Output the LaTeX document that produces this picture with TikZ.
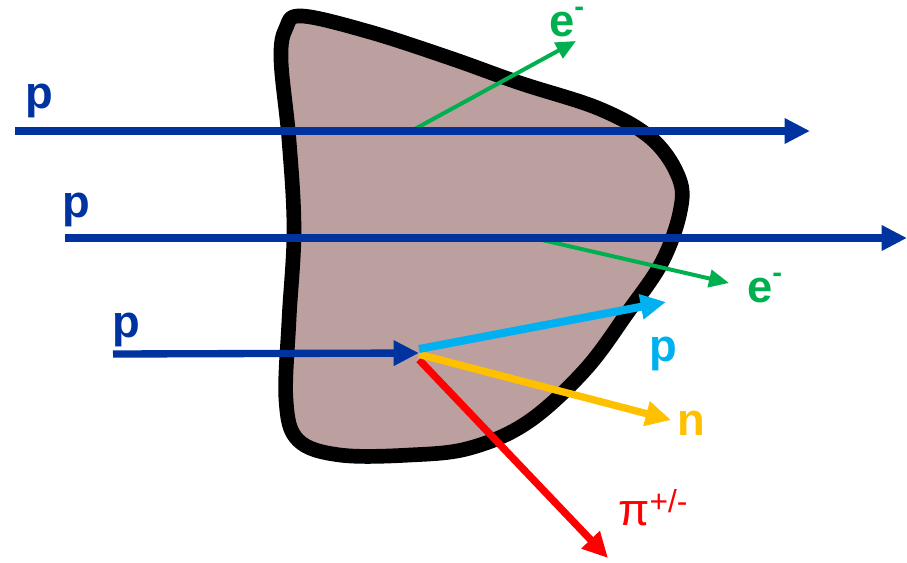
\documentclass[tikz,border=0pt]{standalone}
\usepackage{fontspec}
\setmainfont{Liberation Sans}
\usetikzlibrary{arrows.meta}

\definecolor{beamblue}{RGB}{0,51,160}
\definecolor{elgreen}{RGB}{0,176,80}
\definecolor{protcyan}{RGB}{0,176,240}
\definecolor{neutyellow}{RGB}{255,192,0}
\definecolor{pionred}{RGB}{255,0,0}
\definecolor{blobfill}{RGB}{188,160,160}

\begin{document}
\begin{tikzpicture}[
  x=0.75pt, y=-0.75pt,
  blob/.style={draw=black, line width=11pt, fill=blobfill, line join=round},
  beam/.style={draw=beamblue, line width=5.5pt, -{Triangle[length=19pt,width=18pt]}},
  electron/.style={draw=elgreen, line width=3pt, -{Triangle[length=15pt,width=13pt]}},
  product/.style={line width=5.5pt, -{Triangle[length=19pt,width=18pt]}},
  lbl/.style={font=\bfseries\fontsize{34}{40}\selectfont, anchor=base west, inner sep=0pt},
  pilbl/.style={font=\fontsize{34}{40}\selectfont, anchor=base west, inner sep=0pt}
]
\useasboundingbox (0,0) rectangle (907,562);

% target
\draw[blob] plot[smooth cycle, tension=0.6] coordinates {
  (302,16) (370,32) (450,58) (520,83) (600,109) (652,139) (679,178)
  (680,212) (662,262) (628,312) (585,370) (528,422) (470,448)
  (410,455) (340,455) (298,440) (286,400) (289,320) (294,230)
  (289,140) (281,60) (286,28)};

% beams
\coordinate (pa0) at (15,131);
\coordinate (pa1) at (810,131);
\coordinate (pb0) at (65,238);
\coordinate (pb1) at (907,238);
\coordinate (pc0) at (113,354);
\coordinate (hit) at (419,353);

% knock-on electrons
\coordinate (ea0) at (413,130);
\coordinate (ea1) at (576,41);
\coordinate (eb0) at (538,239);
\coordinate (eb1) at (729,283);

% reaction products
\coordinate (cp1) at (666,302);
\coordinate (cn1) at (671,420);
\coordinate (cpi1) at (608,558);

\draw[electron] (ea0) -- (ea1);
\draw[electron] (eb0) -- (eb1);
\draw[beam] (pa0) -- (pa1);
\draw[beam] (pb0) -- (pb1);
\draw[beam] (pc0) -- (hit);

\draw[product, draw=pionred] ([yshift=-5]hit) -- (cpi1);
\draw[product, draw=neutyellow] ([yshift=-1]hit) -- (cn1);
\draw[product, draw=protcyan, line width=6pt] ([yshift=3]hit) -- (cp1);

% labels
\node[lbl, text=beamblue] (lpa) at (25,108) {p};
\node[lbl, text=beamblue] (lpb) at (62,217) {p};
\node[lbl, text=beamblue] (lpc) at (112,337) {p};
\node[lbl, text=elgreen] (lea) at (549,36) {e\raisebox{0.42em}{\fontsize{22}{22}\selectfont-}};
\node[lbl, text=elgreen] (leb) at (747,302) {e\raisebox{0.42em}{\fontsize{22}{22}\selectfont-}};
\node[lbl, text=protcyan] (lp) at (649,361) {p};
\node[lbl, text=neutyellow] (ln) at (677,435) {n};
\node[pilbl, text=pionred] (lpi) at (618,525) {π\textsuperscript{+/-}};

\end{tikzpicture}
\end{document}
